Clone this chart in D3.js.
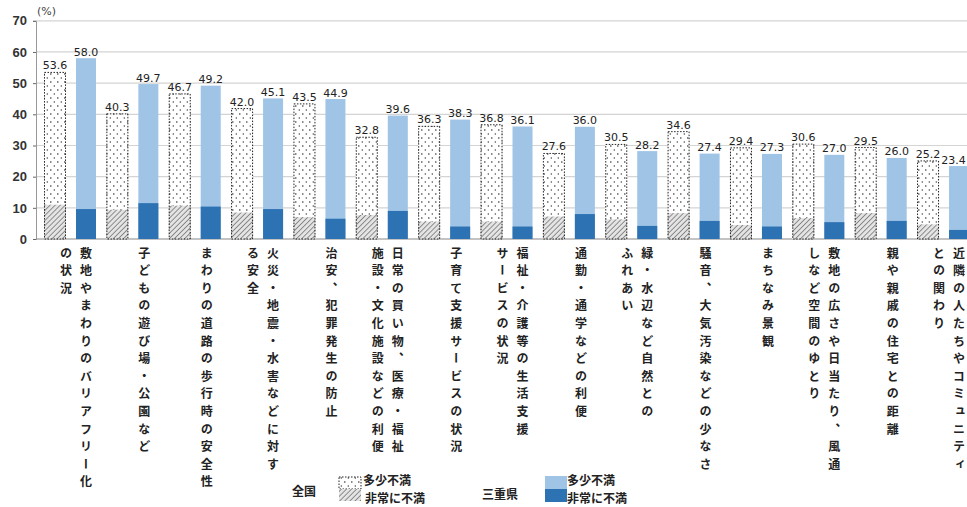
<!DOCTYPE html>
<html><head><meta charset="utf-8">
<script src="https://cdn.jsdelivr.net/npm/d3@7"></script>
<style>
html,body{margin:0;padding:0;background:#fff;}
svg{display:block;}
</style>
</head><body>
<svg id="c" width="967" height="507"></svg>
<script>
// ---- data ----
const categories = [
  ["敷地やまわりのバリアフリー化", "の状況"],
  ["子どもの遊び場・公園など"],
  ["まわりの道路の歩行時の安全性"],
  ["火災・地震・水害などに対す", "る安全"],
  ["治安、犯罪発生の防止"],
  ["日常の買い物、医療・福祉", "施設・文化施設などの利便"],
  ["子育て支援サービスの状況"],
  ["福祉・介護等の生活支援", "サービスの状況"],
  ["通勤・通学などの利便"],
  ["緑・水辺など自然との", "ふれあい"],
  ["騒音、大気汚染などの少なさ"],
  ["まちなみ景観"],
  ["敷地の広さや日当たり、風通", "しなど空間のゆとり"],
  ["親や親戚の住宅との距離"],
  ["近隣の人たちやコミュニティ", "との関わり"]
];
const nationalTotal  = [53.6, 40.3, 46.7, 42.0, 43.5, 32.8, 36.3, 36.8, 27.6, 30.5, 34.6, 29.4, 30.6, 29.5, 25.2];
const nationalSevere = [11.0, 9.4, 10.7, 8.5, 7.0, 7.7, 5.6, 5.6, 7.2, 6.3, 8.3, 4.5, 6.7, 8.3, 4.7];
const mieTotal       = [58.0, 49.7, 49.2, 45.1, 44.9, 39.6, 38.3, 36.1, 36.0, 28.2, 27.4, 27.3, 27.0, 26.0, 23.4];
const mieSevere      = [9.6, 11.5, 10.4, 9.6, 6.5, 9.0, 4.0, 4.0, 8.0, 4.2, 5.8, 4.0, 5.4, 5.8, 2.9];
const yTicks = [0, 10, 20, 30, 40, 50, 60, 70];
const legendGroups = ["全国", "三重県"];
const legendItems = ["多少不満", "非常に不満"];
const unitLabel = "(%)";

// ---- drawing ----
const W = 967;
const svg = d3.select("#c");
const keys = categories.map(d => d.join(""));
const x = d3.scaleBand().domain(keys).range([33, 33 + 15 * 62.36]).padding(0);
const y = d3.scaleLinear().domain([0, 70]).range([239, 20.8]);

const defs = svg.append("defs");
const dots = defs.append("pattern").attr("id", "dots").attr("patternUnits", "userSpaceOnUse")
  .attr("width", 7).attr("height", 8);
dots.append("rect").attr("width", 7).attr("height", 8).attr("fill", "#fff");
dots.append("circle").attr("cx", 1.8).attr("cy", 2).attr("r", 0.75).attr("fill", "#222");
dots.append("circle").attr("cx", 5.3).attr("cy", 6).attr("r", 0.75).attr("fill", "#444");
const hatch = defs.append("pattern").attr("id", "hatch").attr("patternUnits", "userSpaceOnUse")
  .attr("width", 3.6).attr("height", 3.6).attr("patternTransform", "rotate(45)");
hatch.append("rect").attr("width", 3.6).attr("height", 3.6).attr("fill", "#e4e4e4");
hatch.append("line").attr("x1", 0).attr("y1", 0).attr("x2", 0).attr("y2", 3.6)
  .attr("stroke", "#777").attr("stroke-width", 1.6);

// gridlines
svg.append("g").selectAll("line").data(yTicks.filter(t => t > 0)).join("line")
  .attr("x1", 36).attr("x2", W).attr("y1", d => y(d)).attr("y2", d => y(d))
  .attr("stroke", "#d4d4d4").attr("stroke-width", 1.2);

// y axis
const yAxis = svg.append("g").attr("transform", "translate(36,0)")
  .call(d3.axisLeft(y).tickValues(yTicks).tickSize(3).tickFormat(d3.format("d")));
yAxis.select(".domain").attr("stroke", "#999");
yAxis.selectAll(".tick line").attr("stroke", "#666");
yAxis.selectAll(".tick text").attr("x", -9).attr("font-family", "Liberation Sans, Arial, sans-serif")
  .attr("font-size", 13).attr("font-weight", "bold").attr("fill", "#333");
svg.append("text").attr("x", 37).attr("y", 15).text(unitLabel)
  .attr("font-family", "DejaVu Sans, sans-serif").attr("font-size", 11).attr("fill", "#444");

// baseline
svg.append("line").attr("x1", 36).attr("x2", W).attr("y1", y(0)).attr("y2", y(0))
  .attr("stroke", "#888").attr("stroke-width", 1.2);

const g = svg.append("g");
const idx = d3.range(categories.length);
// national bars
g.selectAll(".nt").data(idx).join("rect")
  .attr("x", i => x(keys[i]) + 11).attr("width", 22)
  .attr("y", i => y(nationalTotal[i])).attr("height", i => y(0) - y(nationalTotal[i]))
  .attr("fill", "url(#dots)");
g.selectAll(".ns").data(idx).join("rect")
  .attr("x", i => x(keys[i]) + 11).attr("width", 22)
  .attr("y", i => y(nationalSevere[i])).attr("height", i => y(0) - y(nationalSevere[i]))
  .attr("fill", "url(#hatch)");
g.selectAll(".no").data(idx).join("rect")
  .attr("x", i => x(keys[i]) + 11.5).attr("width", 21)
  .attr("y", i => y(nationalTotal[i]) + 0.5).attr("height", i => y(0) - y(nationalTotal[i]) - 0.5)
  .attr("fill", "none").attr("stroke", "#222").attr("stroke-width", 1).attr("stroke-dasharray", "1.5,1.5");
// Mie bars
g.selectAll(".mt").data(idx).join("rect")
  .attr("x", i => x(keys[i]) + 43).attr("width", 20)
  .attr("y", i => y(mieTotal[i])).attr("height", i => y(0) - y(mieTotal[i]))
  .attr("fill", "#9fc4e5");
g.selectAll(".ms").data(idx).join("rect")
  .attr("x", i => x(keys[i]) + 43).attr("width", 20)
  .attr("y", i => y(mieSevere[i])).attr("height", i => y(0) - y(mieSevere[i]))
  .attr("fill", "#2d72b3");

// value labels
const lab = svg.append("g").attr("font-family", "DejaVu Sans, sans-serif").attr("font-size", 11)
  .attr("fill", "#222").attr("text-anchor", "middle");
lab.selectAll(".vn").data(idx).join("text")
  .attr("x", i => x(keys[i]) + 22).attr("y", i => y(nationalTotal[i]) - 2.5)
  .text(i => nationalTotal[i].toFixed(1));
lab.selectAll(".vm").data(idx).join("text")
  .attr("x", i => Math.min(x(keys[i]) + 53, W - 13.5)).attr("y", i => y(mieTotal[i]) - 2.5)
  .text(i => mieTotal[i].toFixed(1));

// category labels (vertical)
const cl = svg.append("g").attr("font-family", "Noto Sans CJK JP, sans-serif")
  .attr("font-size", 12).attr("font-weight", "bold").attr("fill", "#222");
idx.forEach(i => {
  const lines = categories[i];
  lines.forEach((t, k) => {
    const off = lines.length === 1 ? 49 : (k === 0 ? 53 : 33);
    cl.append("text")
      .attr("x", x(keys[i]) + off).attr("y", 247)
      .style("writing-mode", "vertical-rl")
      .style("letter-spacing", "5.6px")
      .text(t);
  });
});

// legend
const lg = svg.append("g").attr("font-family", "Noto Sans CJK JP, sans-serif")
  .attr("font-size", 12).attr("font-weight", "bold").attr("fill", "#222");
lg.append("text").attr("x", 292).attr("y", 496).text(legendGroups[0]);
lg.append("rect").attr("x", 339).attr("y", 477).attr("width", 22).attr("height", 12).attr("fill", "url(#dots)")
  .attr("stroke", "#222").attr("stroke-dasharray", "1.5,1.5");
lg.append("rect").attr("x", 339).attr("y", 489).attr("width", 22).attr("height", 12).attr("fill", "url(#hatch)");
lg.append("text").attr("x", 363).attr("y", 485).text(legendItems[0]);
lg.append("text").attr("x", 365).attr("y", 503).text(legendItems[1]);
lg.append("text").attr("x", 482).attr("y", 499).text(legendGroups[1]);
lg.append("rect").attr("x", 545).attr("y", 476).attr("width", 22).attr("height", 13).attr("fill", "#9fc4e5");
lg.append("rect").attr("x", 545).attr("y", 489).attr("width", 22).attr("height", 13).attr("fill", "#2d72b3");
lg.append("text").attr("x", 567).attr("y", 485).text(legendItems[0]);
lg.append("text").attr("x", 567).attr("y", 503).text(legendItems[1]);
</script>
</body></html>
